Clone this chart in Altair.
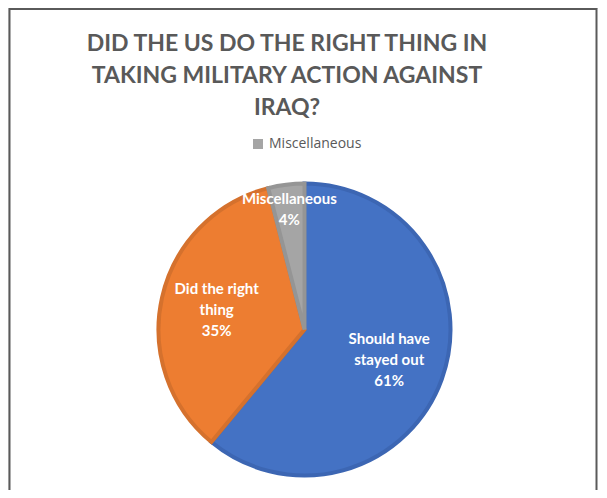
import altair as alt
import pandas as pd

categories = ["Should have stayed out", "Did the right thing", "Miscellaneous"]
values = [61, 35, 4]
label_text = ["Should have\nstayed out\n61%", "Did the right\nthing\n35%", "Miscellaneous\n4%"]
label_radius = [90, 90, 121]
fill_colors = ["#4472C4", "#ED7D31", "#A5A5A5"]
edge_colors = ["#3C66B3", "#D5712D", "#959595"]
title_lines = ["DID THE US DO THE RIGHT THING IN", "TAKING MILITARY ACTION AGAINST", "IRAQ?"]

df = pd.DataFrame({
    "category": categories,
    "value": values,
    "order": list(range(len(categories))),
    "label": label_text,
    "r": label_radius,
})

W, H = 590, 482
CX, CY = 296.5, 321.5
LH = 21

pie = alt.Chart(df).mark_arc(radius=146, strokeWidth=4).encode(
    theta=alt.Theta("value:Q", stack=True),
    order=alt.Order("order:Q"),
    x=alt.value(CX),
    y=alt.value(CY),
    color=alt.Color(
        "category:N",
        scale=alt.Scale(domain=categories, range=fill_colors),
        legend=alt.Legend(
            values=["Miscellaneous"],
            title=None,
            orient="none",
            legendX=243,
            legendY=129,
            symbolType="square",
            symbolSize=100,
            symbolStrokeWidth=0,
            labelFont="Open Sans",
            labelFontSize=14,
            labelColor="#595959",
        ),
    ),
    stroke=alt.Stroke(
        "category:N",
        scale=alt.Scale(domain=categories, range=edge_colors),
        legend=None,
    ),
)

labels = alt.Chart(df).transform_joinaggregate(
    total="sum(value)"
).transform_window(
    cum="sum(value)", sort=[alt.SortField("order")], frame=[None, 0]
).transform_calculate(
    mid="(datum.cum - datum.value / 2) / datum.total * 2 * PI",
    nlines="length(split(datum.label, '\\n'))",
).transform_calculate(
    lx=f"{CX} + datum.r * sin(datum.mid)",
    ly=f"{CY} - datum.r * cos(datum.mid) - (datum.nlines - 1) * {LH} / 2",
).mark_text(
    align="center",
    baseline="middle",
    lineBreak="\n",
    font="Lato",
    fontWeight="bold",
    fontSize=15,
    lineHeight=LH,
    color="white",
).encode(
    x=alt.X("lx:Q", scale=None, axis=None),
    y=alt.Y("ly:Q", scale=None, axis=None),
    text="label:N",
)

frame_df = pd.DataFrame({"k": [0]})
frame_color = "#5a5a5a"
left_line = alt.Chart(frame_df).mark_rule(color=frame_color, strokeWidth=2).encode(
    x=alt.value(1.5), y=alt.value(0), y2=alt.value(H)
)
right_line = alt.Chart(frame_df).mark_rule(color=frame_color, strokeWidth=2).encode(
    x=alt.value(588.5), y=alt.value(0), y2=alt.value(H)
)
top_line = alt.Chart(frame_df).mark_rule(color=frame_color, strokeWidth=2).encode(
    x=alt.value(1.5), x2=alt.value(588.5), y=alt.value(1)
)

chart = alt.layer(pie, labels, left_line, right_line, top_line).properties(
    width=W,
    height=H,
    padding=0,
    autosize=alt.AutoSizeParams(type="none"),
    title=alt.TitleParams(
        text=title_lines,
        anchor="middle",
        orient="top",
        offset=-113,
        dx=-16,
        font="Lato",
        fontWeight="bold",
        fontSize=23,
        lineHeight=32,
        color="#595959",
    ),
).configure_view(stroke=None).configure(background="white")

chart.save("out.html", embed_options={"renderer": "svg", "actions": False})
